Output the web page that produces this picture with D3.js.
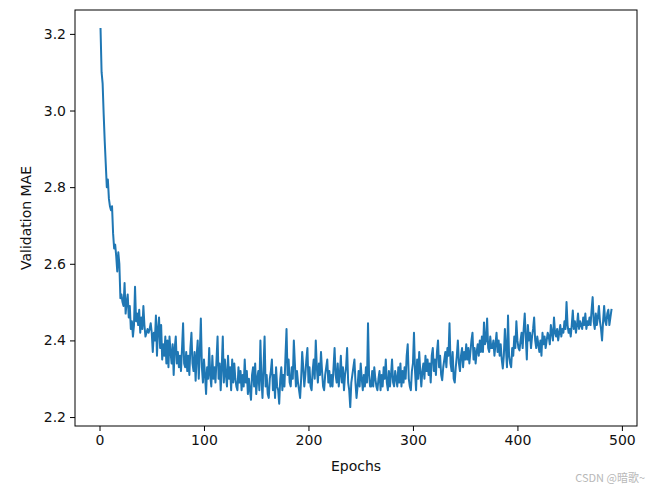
<!DOCTYPE html>
<html>
<head>
<meta charset="utf-8">
<script src="https://cdn.jsdelivr.net/npm/d3@7"></script>
<style>
  html, body { margin: 0; padding: 0; background: #fff; }
  svg { display: block; }
  text { font-family: "DejaVu Sans", sans-serif; }
</style>
</head>
<body>
<svg id="chart" width="652" height="489"></svg>
<script>
// Validation MAE per epoch (epochs 1..490)
const mae = [
  3.213, 3.10, 3.07, 2.99, 2.92, 2.86, 2.80, 2.82, 2.77, 2.75,
  2.74, 2.75, 2.68, 2.64, 2.65, 2.62, 2.58, 2.63, 2.60, 2.51,
  2.52, 2.50, 2.49, 2.55, 2.47, 2.50, 2.52, 2.46, 2.49, 2.43,
  2.45, 2.41, 2.44, 2.54, 2.45, 2.47, 2.44, 2.48, 2.42, 2.46,
  2.43, 2.49, 2.44, 2.41, 2.42, 2.43, 2.42, 2.43, 2.445, 2.42,
  2.37, 2.42, 2.40, 2.465, 2.36, 2.43, 2.46, 2.38, 2.44, 2.35,
  2.39, 2.36, 2.41, 2.34, 2.40, 2.33, 2.41, 2.37, 2.34, 2.39,
  2.31, 2.38, 2.41, 2.34, 2.37, 2.33, 2.36, 2.32, 2.38, 2.445,
  2.34, 2.33, 2.37, 2.32, 2.36, 2.31, 2.38, 2.42, 2.34, 2.32,
  2.37, 2.295, 2.36, 2.40, 2.30, 2.37, 2.457, 2.33, 2.29, 2.35,
  2.31, 2.26, 2.33, 2.30, 2.38, 2.31, 2.28, 2.36, 2.30, 2.33,
  2.29, 2.35, 2.41, 2.30, 2.34, 2.27, 2.33, 2.41, 2.29, 2.35,
  2.31, 2.28, 2.36, 2.30, 2.33, 2.27, 2.35, 2.29, 2.34, 2.30,
  2.28, 2.27, 2.33, 2.29, 2.32, 2.27, 2.31, 2.28, 2.35, 2.29,
  2.32, 2.26, 2.30, 2.27, 2.245, 2.31, 2.33, 2.28, 2.34, 2.26,
  2.30, 2.32, 2.27, 2.40, 2.30, 2.25, 2.33, 2.41, 2.28, 2.31,
  2.26, 2.25, 2.30, 2.32, 2.35, 2.27, 2.31, 2.25, 2.33, 2.28,
  2.27, 2.235, 2.30, 2.33, 2.27, 2.31, 2.28, 2.36, 2.43, 2.31,
  2.35, 2.29, 2.28, 2.33, 2.30, 2.40, 2.34, 2.28, 2.32, 2.29,
  2.27, 2.25, 2.30, 2.37, 2.33, 2.28, 2.31, 2.35, 2.38, 2.29,
  2.33, 2.28, 2.27, 2.32, 2.35, 2.30, 2.40, 2.33, 2.29, 2.34,
  2.31, 2.37, 2.32, 2.28, 2.27, 2.31, 2.33, 2.35, 2.29, 2.32,
  2.28, 2.31, 2.28, 2.33, 2.38, 2.31, 2.29, 2.34, 2.28, 2.31,
  2.36, 2.29, 2.33, 2.27, 2.31, 2.33, 2.38, 2.29, 2.27, 2.226,
  2.29, 2.31, 2.33, 2.35, 2.29, 2.25, 2.28, 2.32, 2.28, 2.34,
  2.30, 2.27, 2.31, 2.28, 2.33, 2.29, 2.445, 2.31, 2.28, 2.28,
  2.32, 2.28, 2.33, 2.30, 2.28, 2.27, 2.30, 2.32, 2.27, 2.31,
  2.28, 2.33, 2.30, 2.35, 2.29, 2.27, 2.32, 2.28, 2.31, 2.35,
  2.29, 2.28, 2.32, 2.30, 2.28, 2.33, 2.29, 2.34, 2.28, 2.32,
  2.29, 2.33, 2.30, 2.36, 2.39, 2.30, 2.28, 2.27, 2.32, 2.34,
  2.42, 2.32, 2.27, 2.35, 2.30, 2.37, 2.32, 2.28, 2.32, 2.34,
  2.30, 2.36, 2.32, 2.35, 2.31, 2.34, 2.29, 2.36, 2.38, 2.32,
  2.35, 2.31, 2.37, 2.40, 2.33, 2.36, 2.31, 2.296, 2.33, 2.35,
  2.37, 2.33, 2.38, 2.36, 2.445, 2.34, 2.32, 2.37, 2.30, 2.29,
  2.33, 2.36, 2.40, 2.34, 2.32, 2.36, 2.38, 2.33, 2.37, 2.35,
  2.39, 2.35, 2.38, 2.34, 2.37, 2.40, 2.42, 2.35, 2.38, 2.34,
  2.37, 2.39, 2.36, 2.40, 2.37, 2.41, 2.37, 2.447, 2.39, 2.40,
  2.457, 2.38, 2.37, 2.41, 2.38, 2.38, 2.40, 2.36, 2.39, 2.42,
  2.37, 2.40, 2.36, 2.39, 2.35, 2.327, 2.36, 2.43, 2.38, 2.33,
  2.465, 2.36, 2.34, 2.33, 2.38, 2.36, 2.41, 2.38, 2.45, 2.40,
  2.38, 2.374, 2.40, 2.42, 2.38, 2.43, 2.47, 2.41, 2.35, 2.44,
  2.40, 2.42, 2.38, 2.41, 2.43, 2.46, 2.40, 2.38, 2.41, 2.39,
  2.37, 2.40, 2.36, 2.42, 2.39, 2.41, 2.38, 2.40, 2.42, 2.41,
  2.39, 2.44, 2.42, 2.40, 2.46, 2.42, 2.41, 2.43, 2.40, 2.42,
  2.44, 2.41, 2.43, 2.42, 2.45, 2.43, 2.50, 2.44, 2.42, 2.43,
  2.41, 2.44, 2.478, 2.43, 2.45, 2.42, 2.44, 2.47, 2.43, 2.45,
  2.44, 2.43, 2.46, 2.44, 2.47, 2.43, 2.45, 2.44, 2.46, 2.44,
  2.48, 2.513, 2.45, 2.43, 2.47, 2.44, 2.46, 2.49, 2.45, 2.43,
  2.40, 2.45, 2.49, 2.45, 2.44, 2.47, 2.48, 2.44, 2.46, 2.48
];
const epochs = mae.map((_, i) => i + 1);
const xTicks = [0, 100, 200, 300, 400, 500];
const yTicks = [2.2, 2.4, 2.6, 2.8, 3.0, 3.2];
const xLabel = "Epochs";
const yLabel = "Validation MAE";
const watermark = "CSDN @暗歌~";

const svg = d3.select("#chart");
const L = 75, R = 637, T = 10, B = 426;

// matplotlib-style 5% margins
const xe = d3.extent(epochs), ye = d3.extent(mae);
const xm = (xe[1] - xe[0]) * 0.05, ym = (ye[1] - ye[0]) * 0.05;
const x = d3.scaleLinear().domain([xe[0] - xm, xe[1] + xm]).range([L, R]);
const y = d3.scaleLinear().domain([ye[0] - ym, ye[1] + ym]).range([B, T]);

const line = d3.line().x((d, i) => x(epochs[i])).y(d => y(d));
svg.append("path")
  .datum(mae)
  .attr("d", line)
  .attr("fill", "none")
  .attr("stroke", "#1f77b4")
  .attr("stroke-width", 2)
  .attr("stroke-linejoin", "round")
  .attr("stroke-linecap", "square");

const fs = 14;
const xAxis = svg.append("g").attr("transform", `translate(0,${B})`)
  .call(d3.axisBottom(x).tickValues(xTicks).tickFormat(d3.format("d")).tickSize(5).tickPadding(4));
const yAxis = svg.append("g").attr("transform", `translate(${L},0)`)
  .call(d3.axisLeft(y).tickValues(yTicks).tickFormat(d3.format(".1f")).tickSize(5).tickPadding(4));
[xAxis, yAxis].forEach(g => {
  g.select(".domain").remove();
  g.selectAll(".tick line").attr("stroke", "#000").attr("stroke-width", 1);
  g.selectAll(".tick text").attr("fill", "#111").style("font-size", fs + "px").style("font-family", "DejaVu Sans");
});

// frame
svg.append("rect").attr("x", L).attr("y", T).attr("width", R - L).attr("height", B - T)
  .attr("fill", "none").attr("stroke", "#000").attr("stroke-width", 1);

svg.append("text").attr("x", (L + R) / 2).attr("y", 471)
  .attr("text-anchor", "middle").attr("fill", "#111").style("font-size", fs + "px").text(xLabel);
svg.append("text").attr("transform", `translate(31,${(T + B) / 2}) rotate(-90)`)
  .attr("text-anchor", "middle").attr("fill", "#111").style("font-size", fs + "px").text(yLabel);

svg.append("text").attr("x", 645).attr("y", 482).attr("text-anchor", "end")
  .attr("fill", "#b8b8b8").style("font-size", "11px")
  .style("font-family", "'Noto Sans CJK SC', 'DejaVu Sans', sans-serif").text(watermark);
</script>
</body>
</html>
